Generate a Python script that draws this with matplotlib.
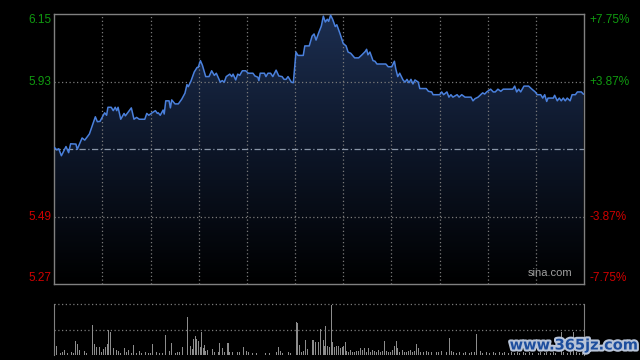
import numpy as np
import matplotlib
matplotlib.use("Agg")
import matplotlib.pyplot as plt
from matplotlib.patches import Polygon
from matplotlib.colors import LinearSegmentedColormap
import matplotlib.patheffects as pe

# ---- data ----
prev_close = 5.71
left_ticks = [6.15, 5.93, 5.49, 5.27]
left_labels = ["6.15", "5.93", "5.49", "5.27"]
right_labels = ["+7.75%", "+3.87%", "-3.87%", "-7.75%"]

minutes = [0.2, 1.1, 2.0, 3.2, 5.3, 6.5, 7.4, 9.8, 10.4, 12.6, 13.8, 15.9, 18.6, 19.5, 20.7,
           22.8, 23.7, 24.3, 25.8, 26.7, 27.6, 28.3, 28.9, 30.1, 31.6, 32.2, 34.9, 36.1, 37.3,
           38.5, 41.0, 41.9, 42.8, 43.9, 45.8, 46.7, 47.1, 48.0, 49.3, 49.8, 50.5, 52.0, 52.6,
           53.2, 54.7, 56.2, 57.7, 59.2, 60.1, 60.7, 61.9, 63.4, 64.7, 65.2, 66.2, 67.1, 68.6,
           70.1, 71.3, 72.5, 73.4, 75.2, 76.1, 77.0, 77.9, 79.5, 80.4, 81.0, 82.2, 83.1, 84.0,
           85.2, 86.7, 87.9, 90.0, 90.9, 92.2, 92.7, 93.3, 95.2, 95.9, 96.8, 98.0, 99.0, 100.5,
           101.7, 103.2, 104.1, 105.0, 105.9, 107.4, 108.3, 109.5, 110.4, 112.8, 113.5, 115.5,
           116.8, 117.7, 118.6, 119.8, 121.0, 121.9, 122.8, 123.7, 124.3, 125.2, 126.1, 127.3,
           128.0, 129.4, 130.9, 132.2, 133.1, 134.3, 136.1, 137.9, 139.4, 140.9, 141.5, 142.1,
           143.0, 144.4, 145.3, 146.2, 150.2, 151.3, 152.9, 154.1, 154.7, 155.6, 156.5, 158.0,
           158.9, 159.8, 160.7, 161.6, 162.5, 163.4, 164.9, 165.6, 168.5, 169.5, 171.0, 171.6,
           174.6, 175.5, 176.4, 177.9, 178.8, 179.7, 180.6, 182.5, 183.4, 184.6, 186.1, 188.8,
           189.7, 190.6, 192.0, 194.1, 195.0, 195.9, 197.7, 198.9, 199.8, 201.0, 202.3, 203.4,
           207.7, 208.6, 209.5, 210.4, 211.3, 212.8, 214.9, 216.4, 217.9, 218.8, 220.4, 221.3,
           222.2, 223.1, 223.7, 226.1, 226.7, 227.9, 228.8, 229.7, 230.6, 231.5, 232.4, 233.7,
           234.6, 236.1, 237.0, 238.8, 239.7]
prices = [5.714, 5.707, 5.711, 5.688, 5.718, 5.698, 5.727, 5.726, 5.709, 5.746, 5.739, 5.759,
          5.815, 5.799, 5.800, 5.828, 5.820, 5.846, 5.846, 5.835, 5.846, 5.835, 5.846, 5.807,
          5.826, 5.818, 5.844, 5.807, 5.813, 5.807, 5.807, 5.826, 5.820, 5.826, 5.835, 5.826,
          5.828, 5.820, 5.837, 5.824, 5.867, 5.867, 5.844, 5.870, 5.857, 5.857, 5.872, 5.892,
          5.920, 5.913, 5.931, 5.961, 5.976, 5.976, 5.998, 5.983, 5.946, 5.946, 5.965, 5.950,
          5.957, 5.928, 5.933, 5.928, 5.946, 5.954, 5.946, 5.954, 5.935, 5.954, 5.950, 5.965,
          5.965, 5.957, 5.957, 5.948, 5.944, 5.933, 5.957, 5.957, 5.946, 5.957, 5.957, 5.946,
          5.967, 5.948, 5.946, 5.937, 5.937, 5.946, 5.928, 5.926, 6.026, 6.015, 6.015, 6.046,
          6.046, 6.078, 6.085, 6.065, 6.089, 6.111, 6.143, 6.124, 6.133, 6.126, 6.146, 6.133,
          6.109, 6.115, 6.087, 6.054, 6.046, 6.026, 6.022, 6.007, 6.007, 6.017, 6.028, 6.035,
          6.017, 6.026, 5.998, 5.996, 5.987, 5.987, 5.978, 5.978, 5.996, 5.972, 5.946, 5.957,
          5.935, 5.928, 5.937, 5.926, 5.937, 5.922, 5.935, 5.928, 5.907, 5.907, 5.898, 5.896,
          5.887, 5.887, 5.896, 5.887, 5.896, 5.879, 5.887, 5.879, 5.887, 5.879, 5.887, 5.879,
          5.879, 5.867, 5.874, 5.879, 5.893, 5.889, 5.896, 5.905, 5.896, 5.896, 5.905, 5.898,
          5.905, 5.905, 5.915, 5.896, 5.905, 5.896, 5.915, 5.915, 5.905, 5.896, 5.887, 5.887,
          5.876, 5.887, 5.865, 5.876, 5.876, 5.885, 5.867, 5.876, 5.867, 5.876, 5.867, 5.876,
          5.867, 5.887, 5.887, 5.896, 5.896, 5.889]

vol_minutes = [0.3, 1.2, 2.6, 3.5, 4.8, 6.2, 7.6, 8.5, 9.8, 10.7, 11.2, 13.5, 14.8, 17.2, 18.1,
               19.3, 20.4, 21.2, 22.1, 23.0, 23.9, 24.5, 25.4, 26.6, 28.0, 28.9, 29.3, 30.2, 31.6,
               32.9, 33.8, 34.8, 36.1, 37.4, 38.4, 39.7, 41.1, 42.5, 43.8, 44.7, 46.5, 47.8, 49.2,
               50.6, 52.0, 53.3, 54.7, 56.0, 56.9, 58.3, 60.3, 61.5, 62.4, 63.0, 63.9, 64.3, 65.2,
               66.2, 66.6, 67.5, 68.0, 68.7, 69.6, 71.0, 71.5, 72.8, 74.2, 74.8, 76.0, 77.3, 78.4,
               78.8, 79.6, 80.9, 83.2, 84.1, 85.6, 86.9, 87.8, 89.6, 91.4, 93.2, 95.5, 97.7, 100.5,
               101.5, 102.3, 103.6, 105.9, 107.2, 109.6, 110.1, 111.0, 111.8, 112.7, 113.7, 114.5,
               115.4, 116.9, 117.4, 118.3, 119.6, 120.8, 121.9, 122.5, 123.1, 124.0, 124.6, 125.7,
               126.1, 127.0, 128.0, 128.9, 129.8, 130.4, 130.9, 131.9, 132.5, 133.4, 134.3, 135.2,
               136.1, 137.0, 137.9, 138.8, 139.7, 140.6, 141.5, 142.5, 143.4, 144.3, 145.2, 146.1,
               147.0, 147.9, 148.8, 149.5, 150.6, 151.5, 152.4, 153.3, 154.2, 155.0, 155.7, 156.6,
               157.9, 158.8, 159.7, 160.6, 161.5, 162.4, 163.3, 164.2, 165.1, 166.0, 167.2, 168.7,
               169.6, 171.1, 173.3, 174.2, 175.5, 177.8, 179.0, 179.9, 180.8, 182.3, 183.8, 185.2,
               186.5, 187.9, 189.1, 190.2, 191.5, 192.9, 194.2, 195.6, 197.4, 198.8, 200.1, 201.5,
               202.9, 204.2, 205.6, 207.0, 208.3, 209.7, 211.0, 212.4, 213.7, 215.1, 216.5, 217.8,
               219.2, 220.5, 221.9, 223.2, 224.6, 226.0, 227.3, 229.7, 230.9, 232.3, 233.7, 235.2,
               236.4, 237.8, 239.1]
volumes = [5, 9, 2, 3, 5, 2, 3, 2, 14, 11, 5, 4, 2, 30, 11, 8, 8, 3, 6, 8, 11, 25, 23, 7, 5, 4,
           4, 2, 7, 3, 5, 2, 10, 2, 4, 2, 3, 2, 2, 11, 3, 2, 2, 20, 4, 12, 2, 3, 3, 8, 38, 9, 6,
           16, 19, 16, 14, 8, 23, 7, 10, 4, 5, 5, 6, 3, 3, 12, 7, 3, 12, 12, 3, 3, 3, 3, 8, 4, 3,
           2, 2, 2, 2, 2, 3, 8, 4, 2, 3, 2, 33, 32, 10, 3, 4, 15, 6, 3, 15, 15, 13, 13, 26, 15, 9,
           29, 9, 8, 50, 13, 8, 9, 9, 7, 8, 9, 13, 4, 3, 5, 3, 3, 4, 4, 7, 5, 7, 3, 7, 3, 5, 4, 3,
           5, 3, 4, 14, 4, 3, 3, 5, 9, 14, 7, 3, 5, 3, 3, 4, 5, 3, 4, 11, 7, 3, 3, 4, 3, 3, 3, 3,
           4, 3, 17, 4, 3, 2, 3, 2, 3, 2, 3, 3, 21, 4, 2, 3, 2, 3, 2, 3, 2, 3, 2, 3, 2, 3, 2, 3, 2,
           3, 2, 3, 2, 3, 2, 3, 2, 3, 2, 23, 3, 2, 3, 23, 3, 2, 3]

# ---- figure ----
BG = "#000000"
fig = plt.figure(figsize=(6.4, 3.6), dpi=100, facecolor=BG)
ax = fig.add_axes([54.3 / 640, 1 - 284 / 360, (584 - 54.3) / 640, 270 / 360])
axv = fig.add_axes([54.3 / 640, 1 - 355 / 360, (584 - 54.3) / 640, 51 / 360])

ymin, ymax = 5.27, 6.15
ax.set_facecolor(BG)
ax.set_xlim(0, 240)
ax.set_ylim(ymin, ymax)

# gradient fill under price line
verts = np.column_stack([np.r_[minutes[0], minutes, minutes[-1]],
                         np.r_[ymin, prices, ymin]])
poly = Polygon(verts, closed=True, facecolor="none", edgecolor="none")
ax.add_patch(poly)
grad = np.linspace(0, 1, 256).reshape(-1, 1)
cmap = LinearSegmentedColormap.from_list("g", ["#000000", "#0d1628", "#1c2e50"])
im = ax.imshow(grad, extent=[0, 240, ymin, ymax], origin="lower", aspect="auto",
               cmap=cmap, zorder=1, interpolation="bilinear")
im.set_clip_path(poly)

# grid
grid_col = "#7a7a7a"
for i in range(1, 11):
    ax.axvline(i * 240 / 11, color=grid_col, lw=0.9, ls=(0, (1, 2)), zorder=2)
for v in [5.93, 5.49]:
    ax.axhline(v, color=grid_col, lw=0.9, ls=(0, (1, 2)), zorder=2)
ax.axhline(prev_close, color="#8a96a8", lw=0.9, ls=(0, (5, 2, 1, 2)), zorder=2)

ax.plot(minutes, prices, color="#4a80dc", lw=1.1, zorder=3)

for s in ax.spines.values():
    s.set_color("#808080")
    s.set_linewidth(1)
ax.set_xticks([])
ax.set_yticks([])

fam = ["Liberation Sans Narrow", "Liberation Sans", "DejaVu Sans"]
green, red = "#109a10", "#d00000"
label_y = [6.132, 5.93, 5.49, 5.288]
cols = [green, green, red, red]
for ly, lt, rt, c in zip(label_y, left_labels, right_labels, cols):
    ax.text(-0.006, ly, lt, transform=ax.get_yaxis_transform(), ha="right", va="center",
            color=c, fontsize=8.5, family=fam)
    ax.text(1.011, ly, rt, transform=ax.get_yaxis_transform(), ha="left", va="center",
            color=c, fontsize=8.5, family=fam)

ax.text(0.978, 0.022, "sina.com", transform=ax.transAxes, ha="right", va="bottom",
        color="#a0a0a0", fontsize=8, family=fam)

# volume panel
axv.set_facecolor(BG)
axv.set_xlim(0, 240)
axv.set_ylim(0, 51)
axv.bar(vol_minutes, volumes, width=0.45, color="#8c8c8c", linewidth=0, zorder=2)
axv.axhline(51, color=grid_col, lw=0.9, ls=(0, (1, 2)), zorder=1, clip_on=False)
axv.axhline(25.5, color=grid_col, lw=0.9, ls=(0, (1, 2)), zorder=1)
for k in ["top", "bottom"]:
    axv.spines[k].set_visible(False)
for k in ["left", "right"]:
    axv.spines[k].set_color("#808080")
axv.set_xticks([])
axv.set_yticks([])

fig.text(574 / 640, 1 - 345 / 360, "www.365jz.com", ha="center", va="center",
         color="#1d4e9e", fontsize=10.5, fontweight="bold", family=["DejaVu Sans"],
         path_effects=[pe.withStroke(linewidth=3, foreground="#b8c4d8")])

fig.savefig("out.png", dpi=100, facecolor=BG)
